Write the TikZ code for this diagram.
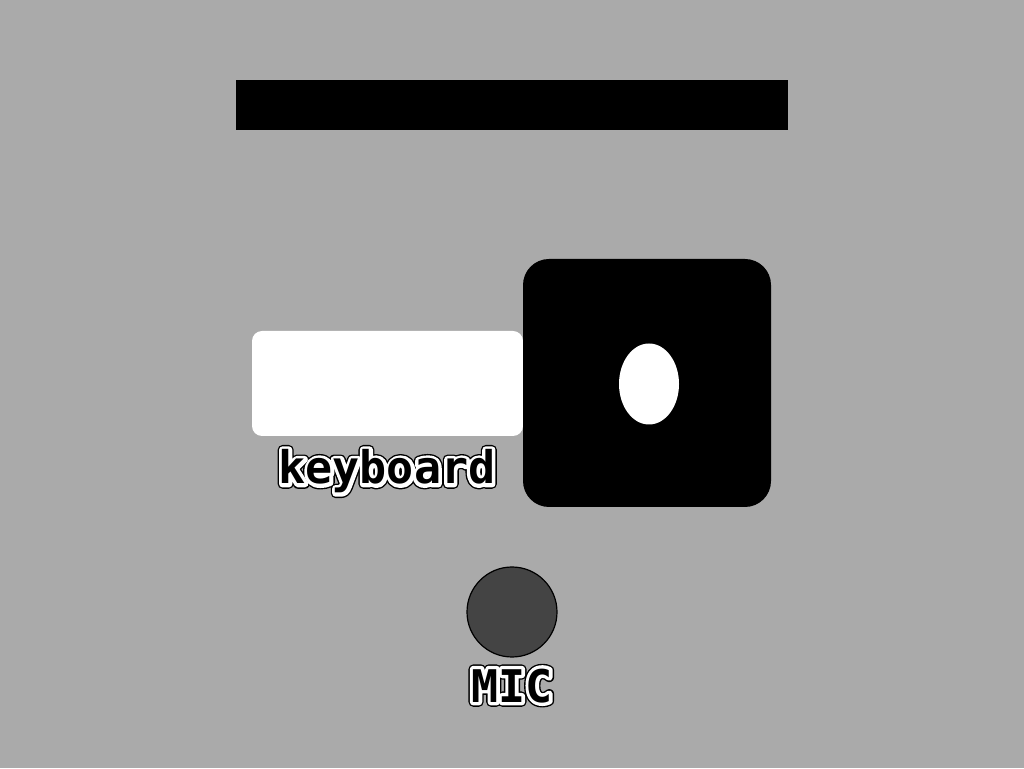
\documentclass[tikz,border=0pt]{standalone}
\usepackage{fontspec}
\setmonofont{DejaVu Sans Mono}
\usetikzlibrary{shapes.geometric,calc}
\newcommand{\strk}[1]{\special{pdf:literal direct 1 j 2 Tr #1 w}}
\newcommand{\unstrk}{\special{pdf:literal direct 0 Tr 1 w}}
\newcommand{\outlined}[1]{%
  \makebox[0pt]{\color{black}\strk{9.6}#1\unstrk}%
  \makebox[0pt]{\color{white}\strk{6.8}#1\unstrk}%
  \makebox[0pt]{\color{black}#1}}
\begin{document}
\begin{tikzpicture}[x=1pt,y=1pt,
  lbl/.style={font=\ttfamily\bfseries\fontsize{45}{45}\selectfont, inner sep=0pt, anchor=base}]
\useasboundingbox (0,0) rectangle (1024,768);
\fill[fill={rgb,255:red,170;green,170;blue,170}] (0,0) rectangle (1024,768);
% top bar
\node[fill=black, minimum width=552pt, minimum height=50pt, inner sep=0pt] (bar) at (512,663) {};
% keyboard panel
\node[fill=white, rounded corners=10pt, minimum width=271pt, minimum height=105pt, inner sep=0pt] (kbd) at (387.5,384.5) {};
% black square
\node[fill=black, rounded corners=26pt, minimum width=248pt, minimum height=248pt, inner sep=0pt] (sq) at (647,385) {};
\node[fill=white, ellipse, minimum width=60pt, minimum height=81pt, inner sep=0pt] (hole) at (649,384) {};
% mic
\node[circle, draw=black, line width=1.2pt, fill={rgb,255:red,68;green,68;blue,68}, minimum size=90pt, inner sep=0pt] (micc) at (512,156) {};
% labels
\node[lbl] (kb) at (387,284) {\outlined{keyboard}};
\node[lbl] (mic) at (512,66) {\outlined{MIC}};
\end{tikzpicture}
\end{document}
